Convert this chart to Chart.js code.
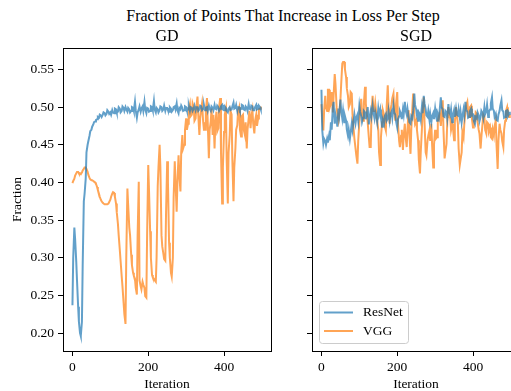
<!DOCTYPE html>
<html>
<head>
<meta charset="utf-8">
<script src="https://cdn.jsdelivr.net/npm/chart.js@4.4.1/dist/chart.umd.min.js"></script>
<style>
  html, body { margin: 0; padding: 0; background: #fff; }
  #fig { position: relative; width: 511px; height: 391px; overflow: hidden; background: #fff; }
  #suptitle { position: absolute; left: 0; top: 8px; width: 566px; text-align: center;
    font: 16px "Liberation Serif", "DejaVu Serif", serif; line-height: 16px; color: #000; }
  #gd { position: absolute; left: 0; top: 0; }
  #sgd { position: absolute; left: 290px; top: 0; }
</style>
</head>
<body>
<div id="fig">
  <div id="suptitle">Fraction of Points That Increase in Loss Per Step</div>
  <canvas id="gd" width="290" height="391" style="width:290px;height:391px"></canvas>
  <canvas id="sgd" width="240" height="391" style="width:240px;height:391px"></canvas>
</div>
<script>
const iterations = [
  0, 2, 5, 7, 10, 12, 15, 17, 20, 22,
  25, 27, 30, 32, 35, 37, 40, 42, 45, 47,
  50, 52, 55, 57, 60, 62, 65, 67, 70, 72,
  75, 77, 80, 82, 85, 87, 90, 92, 95, 97,
  100, 102, 105, 107, 110, 112, 115, 117, 120, 122,
  125, 127, 130, 132, 135, 137, 140, 142, 145, 147,
  150, 152, 155, 157, 160, 162, 165, 167, 170, 172,
  175, 177, 180, 182, 185, 187, 190, 192, 195, 197,
  200, 202, 205, 207, 210, 212, 215, 217, 220, 222,
  225, 227, 230, 232, 235, 237, 240, 242, 245, 247,
  250, 252, 255, 257, 260, 262, 265, 267, 270, 272,
  275, 277, 280, 282, 285, 287, 290, 292, 295, 297,
  300, 302, 305, 307, 310, 312, 315, 317, 320, 322,
  325, 327, 330, 332, 335, 337, 340, 342, 345, 347,
  350, 352, 355, 357, 360, 362, 365, 367, 370, 372,
  375, 377, 380, 382, 385, 387, 390, 392, 395, 397,
  400, 402, 405, 407, 410, 412, 415, 417, 420, 422,
  425, 427, 430, 432, 435, 437, 440, 442, 445, 447,
  450, 452, 455, 457, 460, 462, 465, 467, 470, 472,
  475, 477, 480, 482, 485, 487, 490, 492, 495, 497
];

const seriesNames = ['ResNet', 'VGG'];

const gdResNet = [
  0.237, 0.300, 0.340, 0.325, 0.295, 0.270, 0.235, 0.215, 0.200, 0.196,
  0.215, 0.290, 0.375, 0.385, 0.405, 0.440, 0.450, 0.455, 0.462, 0.468,
  0.470, 0.474, 0.477, 0.480, 0.481, 0.483, 0.484, 0.487, 0.486, 0.490,
  0.489, 0.487, 0.490, 0.493, 0.492, 0.489, 0.491, 0.496, 0.494, 0.491,
  0.493, 0.490, 0.496, 0.493, 0.492, 0.498, 0.497, 0.493, 0.494, 0.500,
  0.498, 0.493, 0.495, 0.501, 0.499, 0.495, 0.500, 0.497, 0.494, 0.499,
  0.497, 0.493, 0.495, 0.500, 0.499, 0.495, 0.507, 0.496, 0.486, 0.493,
  0.497, 0.501, 0.494, 0.498, 0.501, 0.495, 0.507, 0.497, 0.492, 0.499,
  0.498, 0.494, 0.495, 0.501, 0.500, 0.496, 0.508, 0.497, 0.493, 0.499,
  0.497, 0.493, 0.496, 0.501, 0.500, 0.495, 0.497, 0.502, 0.495, 0.499,
  0.499, 0.496, 0.494, 0.500, 0.498, 0.494, 0.496, 0.500, 0.501, 0.497,
  0.505, 0.496, 0.492, 0.499, 0.497, 0.502, 0.499, 0.495, 0.496, 0.501,
  0.500, 0.496, 0.497, 0.502, 0.495, 0.500, 0.499, 0.495, 0.498, 0.502,
  0.496, 0.500, 0.500, 0.495, 0.497, 0.502, 0.501, 0.496, 0.498, 0.503,
  0.496, 0.499, 0.500, 0.495, 0.502, 0.498, 0.495, 0.501, 0.499, 0.496,
  0.503, 0.498, 0.497, 0.502, 0.500, 0.495, 0.498, 0.501, 0.503, 0.497,
  0.496, 0.501, 0.499, 0.495, 0.493, 0.498, 0.500, 0.496, 0.497, 0.501,
  0.506, 0.498, 0.499, 0.503, 0.495, 0.500, 0.500, 0.496, 0.498, 0.503,
  0.502, 0.497, 0.496, 0.501, 0.499, 0.495, 0.504, 0.498, 0.497, 0.502,
  0.501, 0.496, 0.496, 0.500, 0.503, 0.497, 0.498, 0.502, 0.500, 0.497
];

const gdVGG = [
  0.399, 0.402, 0.405, 0.409, 0.412, 0.414, 0.414, 0.412, 0.411, 0.412,
  0.413, 0.416, 0.418, 0.420, 0.420, 0.418, 0.414, 0.410, 0.406, 0.404,
  0.403, 0.403, 0.402, 0.401, 0.400, 0.398, 0.394, 0.390, 0.385, 0.381,
  0.377, 0.375, 0.373, 0.372, 0.371, 0.371, 0.371, 0.371, 0.372, 0.374,
  0.377, 0.381, 0.385, 0.387, 0.386, 0.381, 0.372, 0.360, 0.345, 0.330,
  0.310, 0.296, 0.275, 0.262, 0.240, 0.225, 0.212, 0.300, 0.392, 0.370,
  0.340, 0.330, 0.304, 0.290, 0.280, 0.276, 0.272, 0.260, 0.251, 0.330,
  0.401, 0.270, 0.262, 0.258, 0.268, 0.264, 0.260, 0.249, 0.247, 0.330,
  0.423, 0.390, 0.335, 0.300, 0.277, 0.274, 0.272, 0.270, 0.268, 0.300,
  0.395, 0.420, 0.450, 0.420, 0.330, 0.315, 0.305, 0.298, 0.296, 0.360,
  0.428, 0.400, 0.320, 0.300, 0.280, 0.275, 0.300, 0.380, 0.428, 0.400,
  0.361, 0.400, 0.436, 0.410, 0.388, 0.440, 0.463, 0.445, 0.450, 0.470,
  0.485, 0.470, 0.478, 0.497, 0.504, 0.488, 0.490, 0.505, 0.500, 0.482,
  0.485, 0.500, 0.514, 0.490, 0.463, 0.485, 0.498, 0.505, 0.480, 0.470,
  0.470, 0.495, 0.512, 0.480, 0.432, 0.470, 0.481, 0.498, 0.463, 0.490,
  0.445, 0.478, 0.494, 0.468, 0.472, 0.500, 0.512, 0.440, 0.372, 0.420,
  0.467, 0.490, 0.498, 0.430, 0.372, 0.440, 0.463, 0.495, 0.490, 0.430,
  0.375, 0.420, 0.445, 0.470, 0.476, 0.495, 0.500, 0.470, 0.461, 0.488,
  0.490, 0.470, 0.463, 0.480, 0.445, 0.470, 0.485, 0.495, 0.472, 0.487,
  0.496, 0.478, 0.465, 0.482, 0.490, 0.475, 0.485, 0.497, 0.498, 0.501
];

const sgdResNet = [
  0.523, 0.470, 0.452, 0.458, 0.455, 0.450, 0.458, 0.453, 0.462, 0.456,
  0.480, 0.470, 0.500, 0.507, 0.478, 0.490, 0.482, 0.474, 0.498, 0.490,
  0.510, 0.496, 0.485, 0.495, 0.480, 0.488, 0.482, 0.470, 0.462, 0.470,
  0.458, 0.466, 0.478, 0.470, 0.482, 0.490, 0.479, 0.486, 0.490, 0.482,
  0.502, 0.494, 0.488, 0.480, 0.486, 0.495, 0.493, 0.484, 0.492, 0.500,
  0.477, 0.486, 0.495, 0.488, 0.502, 0.493, 0.485, 0.494, 0.487, 0.480,
  0.498, 0.490, 0.497, 0.486, 0.474, 0.483, 0.478, 0.488, 0.491, 0.482,
  0.485, 0.495, 0.482, 0.490, 0.494, 0.486, 0.502, 0.493, 0.490, 0.481,
  0.473, 0.484, 0.488, 0.495, 0.491, 0.484, 0.497, 0.490, 0.507, 0.496,
  0.490, 0.498, 0.487, 0.480, 0.478, 0.488, 0.485, 0.495, 0.518, 0.503,
  0.497, 0.489, 0.482, 0.493, 0.490, 0.484, 0.500, 0.492, 0.515, 0.505,
  0.497, 0.489, 0.487, 0.495, 0.483, 0.491, 0.480, 0.488, 0.492, 0.484,
  0.498, 0.490, 0.482, 0.491, 0.486, 0.496, 0.513, 0.500, 0.497, 0.488,
  0.487, 0.495, 0.493, 0.485, 0.504, 0.494, 0.490, 0.497, 0.480, 0.489,
  0.496, 0.487, 0.498, 0.490, 0.489, 0.497, 0.486, 0.494, 0.480, 0.488,
  0.497, 0.489, 0.507, 0.496, 0.494, 0.486, 0.487, 0.495, 0.498, 0.489,
  0.490, 0.482, 0.478, 0.487, 0.485, 0.493, 0.489, 0.481, 0.487, 0.495,
  0.492, 0.486, 0.500, 0.491, 0.495, 0.503, 0.487, 0.494, 0.497, 0.505,
  0.513, 0.498, 0.495, 0.487, 0.491, 0.483, 0.482, 0.490, 0.495, 0.502,
  0.509, 0.496, 0.494, 0.486, 0.487, 0.495, 0.496, 0.488, 0.491, 0.494
];

const sgdVGG = [
  0.504, 0.485, 0.469, 0.495, 0.515, 0.500, 0.495, 0.523, 0.523, 0.500,
  0.505, 0.520, 0.493, 0.515, 0.544, 0.531, 0.500, 0.491, 0.482, 0.490,
  0.509, 0.530, 0.558, 0.560, 0.560, 0.550, 0.540, 0.525, 0.515, 0.500,
  0.504, 0.520, 0.518, 0.490, 0.470, 0.458, 0.445, 0.436, 0.425, 0.455,
  0.480, 0.500, 0.511, 0.490, 0.482, 0.505, 0.527, 0.505, 0.490, 0.480,
  0.460, 0.447, 0.447, 0.490, 0.515, 0.495, 0.495, 0.505, 0.490, 0.482,
  0.470, 0.440, 0.423, 0.460, 0.480, 0.496, 0.490, 0.475, 0.469, 0.500,
  0.529, 0.500, 0.478, 0.495, 0.504, 0.512, 0.518, 0.495, 0.482, 0.505,
  0.520, 0.478, 0.455, 0.447, 0.462, 0.470, 0.443, 0.462, 0.478, 0.460,
  0.447, 0.470, 0.496, 0.465, 0.438, 0.470, 0.500, 0.518, 0.490, 0.478,
  0.482, 0.470, 0.456, 0.430, 0.412, 0.440, 0.470, 0.495, 0.513, 0.480,
  0.440, 0.436, 0.456, 0.462, 0.469, 0.455, 0.478, 0.450, 0.420, 0.450,
  0.470, 0.458, 0.460, 0.482, 0.488, 0.491, 0.475, 0.490, 0.509, 0.470,
  0.432, 0.440, 0.451, 0.480, 0.500, 0.487, 0.485, 0.470, 0.478, 0.473,
  0.456, 0.480, 0.500, 0.490, 0.478, 0.445, 0.423, 0.430, 0.440, 0.467,
  0.460, 0.478, 0.495, 0.502, 0.507, 0.495, 0.487, 0.500, 0.502, 0.485,
  0.473, 0.482, 0.482, 0.493, 0.491, 0.480, 0.470, 0.465, 0.445, 0.460,
  0.478, 0.490, 0.487, 0.470, 0.465, 0.480, 0.478, 0.468, 0.473, 0.460,
  0.458, 0.470, 0.462, 0.475, 0.482, 0.450, 0.418, 0.455, 0.478, 0.470,
  0.465, 0.455, 0.447, 0.470, 0.482, 0.495, 0.500, 0.490, 0.487, 0.490
];

const xTicks = [0, 200, 400];
const yTicks = [0.20, 0.25, 0.30, 0.35, 0.40, 0.45, 0.50, 0.55];

const FONT = '"Liberation Serif", "DejaVu Serif", serif';
const BLUE = 'rgba(31, 119, 180, 0.7)';
const ORANGE = 'rgba(255, 127, 14, 0.7)';

function toPoints(values) {
  return values.map((v, i) => ({ x: iterations[i], y: v }));
}

// matplotlib-style box around the axes
const spines = {
  id: 'spines',
  afterDraw(chart) {
    const { ctx, chartArea: ca } = chart;
    const l = Math.round(ca.left) + 0.5, t = Math.round(ca.top) + 0.5;
    const r = Math.round(ca.right) + 0.5, b = Math.round(ca.bottom) + 0.5;
    ctx.save();
    ctx.strokeStyle = '#000';
    ctx.lineWidth = 1;
    ctx.strokeRect(l, t, r - l, b - t);
    ctx.restore();
  }
};

// legend box in the lower left corner of the axes
const boxLegend = {
  id: 'boxLegend',
  afterDatasetsDraw(chart) {
    const { ctx, chartArea: ca } = chart;
    const w = 89, h = 42;
    const x = Math.round(ca.left) + 7, y = Math.round(ca.bottom) - 8 - h;
    ctx.save();
    ctx.beginPath();
    ctx.roundRect(x + 0.5, y + 0.5, w, h, 3);
    ctx.fillStyle = 'rgba(255,255,255,0.8)';
    ctx.fill();
    ctx.strokeStyle = '#cccccc';
    ctx.lineWidth = 1;
    ctx.stroke();
    chart.data.datasets.forEach((ds, i) => {
      const ly = y + 11.5 + i * 18.5;
      ctx.strokeStyle = ds.borderColor;
      ctx.lineWidth = 2;
      ctx.beginPath();
      ctx.moveTo(x + 5, ly);
      ctx.lineTo(x + 34, ly);
      ctx.stroke();
      ctx.fillStyle = '#000';
      ctx.font = '13.5px ' + FONT;
      ctx.textBaseline = 'middle';
      ctx.fillText(ds.label, x + 44, ly);
    });
    ctx.restore();
  }
};

function makeConfig(title, resnet, vgg, opts) {
  return {
    type: 'line',
    data: {
      datasets: [
        { label: seriesNames[0], data: toPoints(resnet), borderColor: BLUE, borderWidth: 2 },
        { label: seriesNames[1], data: toPoints(vgg), borderColor: ORANGE, borderWidth: 2 }
      ]
    },
    options: {
      responsive: false,
      animation: false,
      events: [],
      elements: { point: { radius: 0 }, line: { tension: 0, fill: false } },
      layout: { padding: { left: 0, right: opts.padRight, top: 0, bottom: 0 } },
      scales: {
        x: {
          type: 'linear',
          min: -24.95,
          max: 523.95,
          afterBuildTicks: s => { s.ticks = xTicks.map(v => ({ value: v })); },
          afterFit: s => { s.height = 40; },
          grid: { drawOnChartArea: false, drawTicks: true, tickLength: 5, color: '#000' },
          border: { display: false },
          ticks: { color: '#000', padding: 3, font: { family: FONT, size: 13.5 }, callback: v => String(v) },
          title: { display: true, text: 'Iteration', color: '#000', padding: 0,
                   font: { family: FONT, size: 13.5, lineHeight: 1 } }
        },
        y: {
          type: 'linear',
          min: 0.1761,
          max: 0.5783,
          afterBuildTicks: s => { s.ticks = yTicks.map(v => ({ value: v })); },
          afterFit: s => { s.width = opts.yWidth; },
          grid: { drawOnChartArea: false, drawTicks: true, tickLength: 5, color: '#000' },
          border: { display: false },
          ticks: { color: opts.showYLabels ? '#000' : 'rgba(0,0,0,0)', padding: 4,
                   font: { family: FONT, size: 13.5 }, callback: v => v.toFixed(2) },
          title: { display: opts.showYLabels, text: 'Fraction', color: '#000', padding: { top: 9, bottom: 0 },
                   font: { family: FONT, size: 13.5, lineHeight: 1.2 } }
        }
      },
      plugins: {
        legend: { display: false },
        tooltip: { enabled: false },
        title: {
          display: true, text: title, color: '#000', fullSize: false,
          padding: { top: 27, bottom: 2 },
          font: { family: FONT, size: 16, weight: 'normal', lineHeight: 1.2 }
        }
      }
    },
    plugins: opts.legend ? [spines, boxLegend] : [spines]
  };
}

new Chart(document.getElementById('gd'),
  makeConfig('GD', gdResNet, gdVGG, { padRight: 19, yWidth: 63, showYLabels: true, legend: false }));
new Chart(document.getElementById('sgd'),
  makeConfig('SGD', sgdResNet, sgdVGG, { padRight: 10, yWidth: 22, showYLabels: false, legend: true }));
</script>
</body>
</html>
